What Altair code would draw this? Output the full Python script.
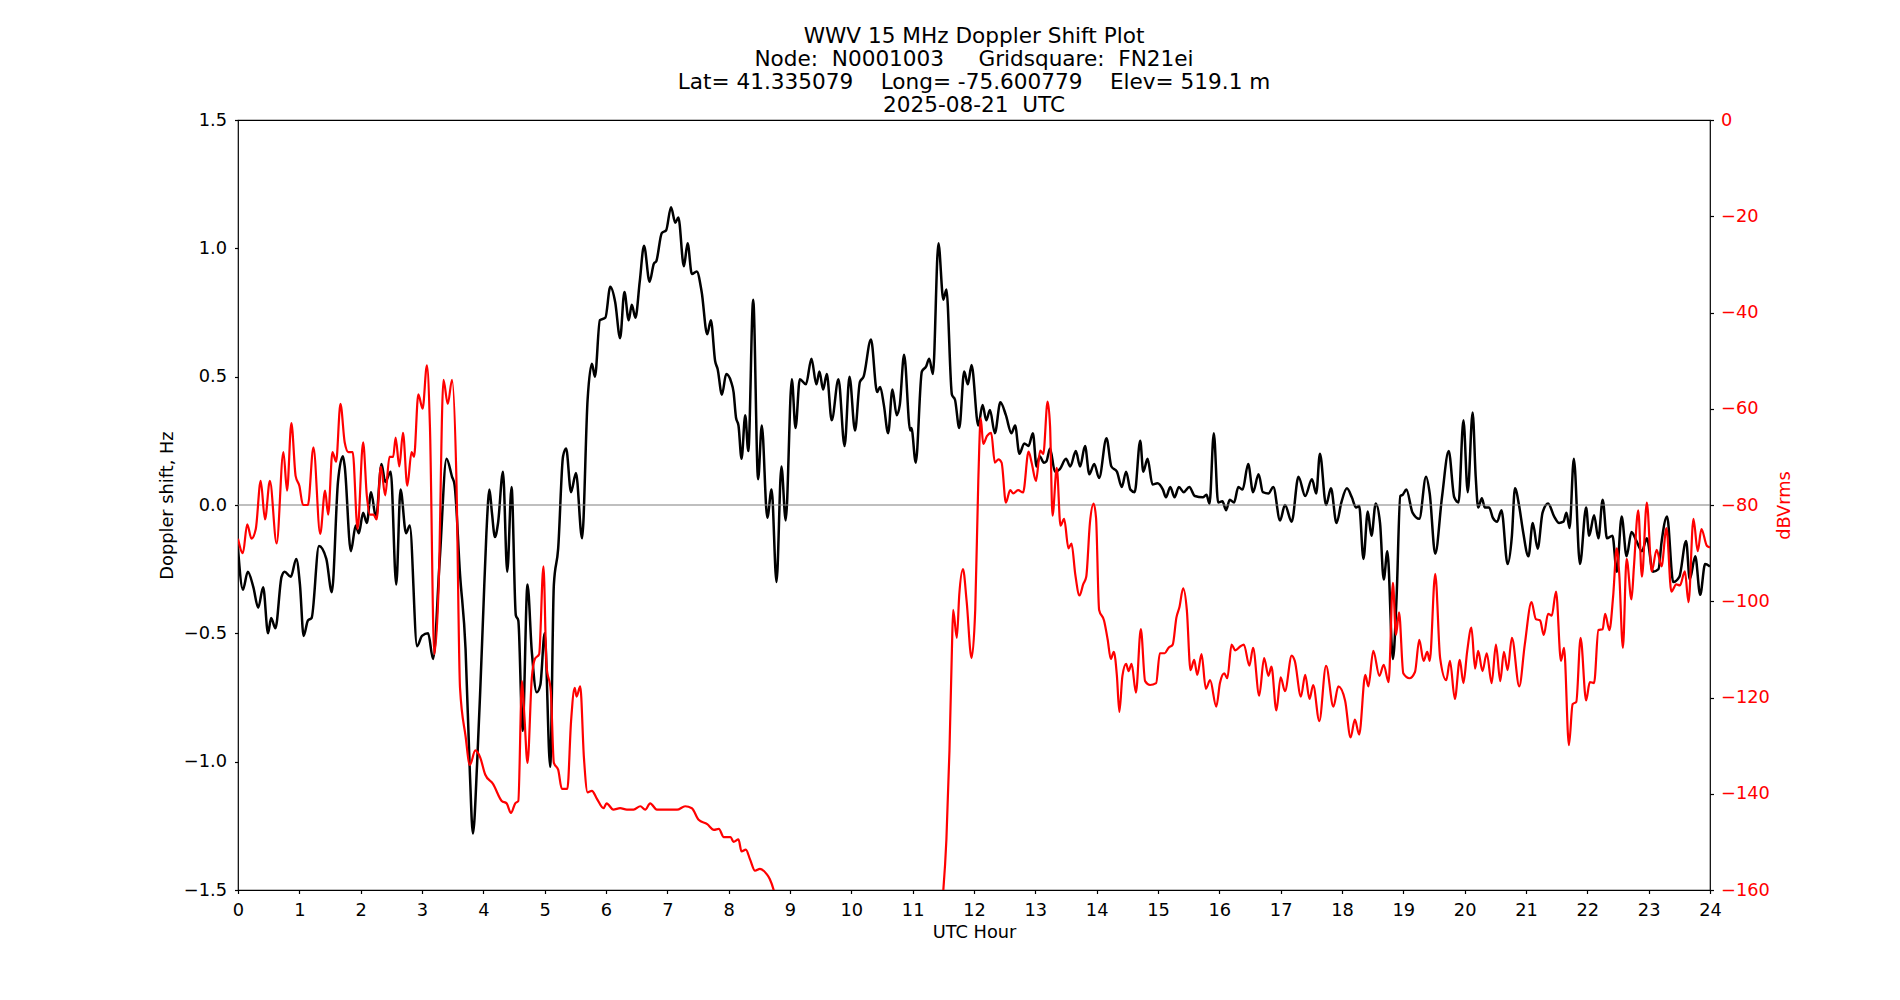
import altair as alt
import pandas as pd

# ---- data ----
doppler_hours = [0.00,0.08,0.16,0.25,0.33,0.41,0.49,0.54,0.61,0.71,0.76,0.86,0.95,1.01,1.07,1.14,1.20,1.32,1.44,1.53,1.63,1.71,1.74,1.84,1.92,1.97,2.04,2.10,2.17,2.25,2.34,2.40,2.49,2.58,2.65,2.74,2.80,2.92,3.00,3.10,3.18,3.29,3.40,3.49,3.53,3.62,3.71,3.78,3.83,3.90,3.95,4.00,4.05,4.10,4.14,4.19,4.24,4.32,4.39,4.46,4.53,4.57,4.64,4.72,4.79,4.87,4.93,5.00,5.09,5.15,5.22,5.30,5.35,5.43,5.51,5.61,5.70,5.77,5.82,5.90,5.99,6.07,6.15,6.23,6.30,6.37,6.42,6.48,6.55,6.62,6.71,6.78,6.82,6.91,6.98,7.06,7.13,7.18,7.27,7.33,7.40,7.48,7.56,7.65,7.71,7.78,7.82,7.89,7.96,8.04,8.08,8.12,8.16,8.21,8.27,8.32,8.40,8.48,8.54,8.63,8.70,8.78,8.86,8.93,9.03,9.09,9.16,9.26,9.35,9.43,9.48,9.54,9.60,9.68,9.79,9.89,9.97,10.06,10.14,10.20,10.32,10.42,10.47,10.53,10.60,10.67,10.74,10.79,10.86,10.96,10.98,11.05,11.15,11.22,11.27,11.33,11.42,11.50,11.55,11.64,11.69,11.76,11.84,11.90,11.96,12.07,12.14,12.20,12.26,12.34,12.43,12.52,12.61,12.67,12.74,12.82,12.89,12.96,13.02,13.07,13.14,13.18,13.24,13.32,13.40,13.50,13.57,13.66,13.73,13.81,13.88,13.96,14.04,14.16,14.24,14.33,14.41,14.48,14.55,14.62,14.71,14.76,14.83,14.91,14.99,15.08,15.13,15.20,15.27,15.34,15.42,15.51,15.60,15.73,15.79,15.84,15.91,15.98,16.05,16.11,16.17,16.24,16.31,16.38,16.47,16.55,16.64,16.71,16.80,16.88,16.99,17.07,17.18,17.29,17.40,17.51,17.58,17.64,17.74,17.82,17.91,17.99,18.08,18.16,18.23,18.28,18.35,18.42,18.48,18.55,18.62,18.68,18.74,18.83,18.89,18.95,18.99,19.05,19.15,19.26,19.37,19.43,19.52,19.63,19.74,19.83,19.90,19.98,20.05,20.13,20.18,20.22,20.28,20.33,20.40,20.46,20.53,20.60,20.70,20.77,20.82,20.89,20.95,21.04,21.11,21.19,21.27,21.36,21.46,21.54,21.61,21.66,21.71,21.78,21.88,21.98,22.03,22.11,22.18,22.25,22.32,22.41,22.48,22.56,22.64,22.72,22.80,22.89,22.97,23.07,23.16,23.21,23.30,23.40,23.50,23.61,23.67,23.76,23.84,23.92,24.00]
doppler_hz = [-0.17,-0.33,-0.26,-0.32,-0.40,-0.32,-0.50,-0.44,-0.48,-0.28,-0.26,-0.28,-0.21,-0.31,-0.51,-0.45,-0.44,-0.16,-0.21,-0.34,0.09,0.19,0.15,-0.18,-0.08,-0.11,-0.03,-0.07,0.05,-0.05,0.16,0.09,0.13,-0.31,0.06,-0.11,-0.08,-0.55,-0.51,-0.50,-0.60,-0.21,0.18,0.11,0.08,-0.27,-0.56,-1.04,-1.28,-1.00,-0.72,-0.41,-0.11,0.06,-0.03,-0.125,-0.07,0.13,-0.26,0.07,-0.43,-0.45,-0.88,-0.31,-0.57,-0.73,-0.70,-0.50,-1.02,-0.31,-0.17,0.19,0.22,0.05,0.125,-0.13,0.41,0.55,0.50,0.72,0.73,0.85,0.79,0.65,0.83,0.72,0.78,0.73,0.87,1.01,0.87,0.94,0.95,1.06,1.07,1.16,1.10,1.12,0.93,1.02,0.90,0.91,0.83,0.665,0.72,0.56,0.53,0.43,0.51,0.48,0.44,0.34,0.31,0.18,0.35,0.21,0.80,0.10,0.31,-0.05,0.06,-0.30,0.15,-0.06,0.49,0.30,0.49,0.47,0.57,0.47,0.52,0.45,0.51,0.33,0.49,0.23,0.50,0.29,0.48,0.50,0.645,0.44,0.46,0.39,0.28,0.45,0.35,0.39,0.585,0.29,0.30,0.165,0.52,0.54,0.57,0.51,1.02,0.80,0.84,0.43,0.41,0.30,0.52,0.47,0.545,0.31,0.39,0.33,0.37,0.28,0.40,0.35,0.28,0.31,0.20,0.24,0.23,0.28,0.15,0.19,0.165,0.17,0.22,0.13,0.14,0.18,0.15,0.21,0.15,0.23,0.12,0.16,0.105,0.26,0.15,0.13,0.07,0.13,0.06,0.05,0.25,0.13,0.18,0.08,0.085,0.06,0.03,0.07,0.03,0.07,0.05,0.07,0.035,0.03,0.04,0.005,0.28,0.01,0.015,-0.02,0.02,0.01,0.07,0.06,0.16,0.05,0.12,0.05,0.045,0.07,-0.06,0.0,-0.065,0.11,0.035,0.10,0.045,0.20,0.0,0.065,-0.07,0.01,0.065,0.03,-0.01,-0.004,-0.21,-0.025,-0.12,0.006,-0.07,-0.29,-0.18,-0.60,-0.36,0.035,0.04,0.06,-0.03,-0.054,0.11,0.045,-0.19,0.03,0.21,0.03,0.01,0.33,0.05,0.36,0.11,-0.01,0.026,-0.01,-0.01,-0.05,-0.065,-0.02,-0.23,-0.12,0.065,-0.006,-0.10,-0.20,-0.07,-0.17,-0.03,0.006,-0.045,-0.07,-0.065,-0.03,-0.09,0.18,-0.23,-0.01,-0.12,-0.04,-0.13,0.02,-0.13,-0.12,-0.26,-0.045,-0.20,-0.105,-0.14,-0.18,-0.13,-0.26,-0.25,-0.145,-0.045,-0.30,-0.28,-0.14,-0.29,-0.20,-0.35,-0.23,-0.24]

level_hours = [0.00,0.08,0.15,0.22,0.29,0.37,0.44,0.52,0.63,0.74,0.80,0.87,0.94,1.00,1.06,1.14,1.23,1.34,1.42,1.47,1.54,1.60,1.67,1.74,1.80,1.87,1.95,2.04,2.10,2.15,2.21,2.26,2.33,2.40,2.47,2.53,2.57,2.63,2.69,2.76,2.83,2.87,2.94,3.01,3.08,3.13,3.20,3.27,3.35,3.42,3.49,3.56,3.62,3.71,3.78,3.87,3.95,4.03,4.16,4.30,4.38,4.45,4.52,4.57,4.63,4.67,4.72,4.79,4.84,4.91,4.98,5.03,5.10,5.15,5.22,5.28,5.37,5.43,5.49,5.52,5.58,5.64,5.70,5.77,5.85,5.96,6.01,6.12,6.23,6.34,6.45,6.56,6.64,6.72,6.83,6.99,7.16,7.29,7.40,7.51,7.65,7.76,7.84,7.92,8.03,8.08,8.16,8.21,8.28,8.35,8.43,8.51,8.62,8.67,8.74,8.85,9.50,10.50,11.30,11.45,11.50,11.55,11.60,11.64,11.66,11.72,11.76,11.82,11.88,11.96,12.02,12.07,12.11,12.15,12.21,12.28,12.34,12.40,12.45,12.52,12.59,12.64,12.72,12.80,12.89,12.94,13.01,13.08,13.13,13.20,13.24,13.28,13.35,13.41,13.47,13.54,13.59,13.65,13.72,13.78,13.83,13.89,13.95,13.99,14.04,14.12,14.18,14.23,14.28,14.33,14.37,14.42,14.48,14.52,14.57,14.64,14.72,14.79,14.87,14.97,15.03,15.11,15.17,15.24,15.30,15.35,15.41,15.47,15.53,15.59,15.64,15.71,15.78,15.85,15.95,16.01,16.08,16.13,16.20,16.26,16.34,16.40,16.49,16.55,16.65,16.73,16.80,16.85,16.93,17.00,17.07,17.18,17.23,17.33,17.40,17.47,17.53,17.63,17.74,17.86,17.94,18.05,18.14,18.21,18.28,18.38,18.43,18.51,18.61,18.68,18.76,18.83,18.88,18.93,19.00,19.10,19.19,19.26,19.33,19.39,19.43,19.52,19.60,19.70,19.76,19.84,19.92,19.98,20.04,20.11,20.17,20.22,20.29,20.36,20.44,20.51,20.58,20.64,20.70,20.77,20.89,20.98,21.09,21.16,21.23,21.29,21.36,21.42,21.49,21.57,21.62,21.70,21.76,21.82,21.89,21.98,22.04,22.11,22.18,22.25,22.29,22.36,22.42,22.48,22.52,22.58,22.64,22.72,22.76,22.83,22.89,22.97,23.05,23.13,23.21,23.29,23.37,23.45,23.51,23.59,23.65,23.73,23.80,23.86,23.95,24.00]
level_dbv = [-87,-90,-84,-87,-85,-75,-83,-75,-88,-69,-77,-63,-74,-76,-80,-80,-68,-86,-77,-82,-69,-71,-59,-67,-69,-69,-85,-67,-78,-82,-82,-83,-72,-78,-70,-70,-66,-72,-65,-76,-69,-70,-57,-60,-51,-64,-111,-97.5,-54,-59,-54,-74,-118,-128,-134,-131,-132.5,-136,-138,-141.5,-142,-144,-142,-141.5,-116.6,-124,-133.6,-116,-112,-111,-92.75,-113.4,-118.7,-133.6,-135,-139,-139,-125,-118,-119.8,-117.7,-132.5,-139.7,-139.4,-141,-143,-142,-143.3,-143,-143.3,-143.3,-142.6,-143.3,-142,-143.3,-143.3,-143.3,-142.6,-143,-145.4,-146.3,-147.5,-147.3,-149,-149,-150,-149.5,-152,-151.6,-153.7,-156,-155.6,-156.7,-157.7,-160.3,-168,-180,-182,-175,-166,-160,-149.5,-131,-110,-101.8,-107.6,-98.6,-93.3,-100,-111.8,-101.8,-75,-62,-67.3,-65.7,-65,-71.2,-70.5,-71.2,-79.5,-76.9,-77.6,-76.9,-77.4,-68.9,-71.2,-75,-68.7,-69.4,-58.5,-63.6,-82.2,-72.3,-84.3,-82.9,-89,-88,-94.3,-98.8,-96.5,-94.9,-83.7,-79.7,-82.7,-101.8,-104,-108,-112,-110.5,-115.5,-123,-115.5,-113,-114.5,-113,-119,-105.8,-116.6,-117.4,-117,-110.8,-110.8,-109.7,-109,-103.4,-101.2,-97.3,-101.8,-114.3,-112.2,-115.3,-111,-118.2,-116.4,-121.9,-117,-115,-116,-109,-110.2,-109.4,-109,-113.4,-109.7,-119.6,-111.8,-115.5,-113.6,-122.7,-115.8,-118.7,-111.3,-112.4,-119.8,-115.3,-120.3,-117.4,-124.9,-113.4,-121.9,-117.7,-120.6,-128.3,-124.6,-127.7,-115.3,-117.7,-110.3,-115.5,-113.2,-116.8,-96.2,-107,-102.3,-115,-116,-114.7,-108,-112.4,-110.5,-112.4,-94.3,-111.8,-116.4,-112.4,-120.3,-112.2,-117,-110.5,-105.5,-114,-110.3,-114.5,-110.8,-117,-109,-116.6,-110.5,-114.3,-107.6,-117.7,-109,-100.2,-103.7,-104,-107,-102.6,-103,-98,-112.4,-109.7,-129.9,-121.4,-120.9,-107.6,-120.6,-116.8,-117,-106,-105.8,-102.6,-106,-99.1,-89,-94.3,-109.7,-91.2,-99.6,-92.75,-81.1,-94.9,-79.5,-93.8,-89.3,-92.75,-84.8,-98,-96.5,-96.7,-93.8,-100.2,-82.9,-89.6,-85,-88.5,-88.8]

hour_ticks = list(range(0, 25))
doppler_ticks = [-1.5, -1.0, -0.5, 0.0, 0.5, 1.0, 1.5]
dbv_ticks = [0, -20, -40, -60, -80, -100, -120, -140, -160]

NB = "\u00a0"
title_lines = [
    "WWV 15 MHz Doppler Shift Plot",
    "Node:" + NB * 2 + "N0001003" + NB * 5 + "Gridsquare:" + NB * 2 + "FN21ei",
    "Lat= 41.335079" + NB * 4 + "Long= -75.600779" + NB * 4 + "Elev= 519.1 m",
    "2025-08-21" + NB * 2 + "UTC",
]

# ---- tables ----
dop_df = pd.DataFrame({"hour": doppler_hours, "doppler": doppler_hz})
lev_df = pd.DataFrame({"hour": level_hours, "dbv": level_dbv})
zero_df = pd.DataFrame({"doppler": [0.0]})

FONT = "DejaVu Sans"
FS = 17.8

x_enc = alt.X(
    "hour:Q",
    scale=alt.Scale(domain=[0, 24], nice=False, zero=False),
    axis=alt.Axis(
        values=hour_ticks, format="d", title="UTC Hour", grid=False, domain=False,
        tickSize=3.5, tickColor="black", tickWidth=1.2, labelPadding=7.5,
        labelFont=FONT, labelFontSize=FS, labelColor="black",
        labelFlush=False, labelOverlap=False, labelBound=False,
        titleFont=FONT, titleFontSize=FS, titleFontWeight="normal", titleColor="black",
        titlePadding=5,
    ),
)

dop_axis = alt.Axis(
    values=doppler_ticks, format=".1f", title="Doppler shift, Hz", grid=False, domain=False,
    tickSize=3.5, tickColor="black", tickWidth=1.2, labelPadding=8,
    labelFont=FONT, labelFontSize=FS, labelColor="black",
    labelFlush=False, labelOverlap=False, labelBound=False,
    titleFont=FONT, titleFontSize=FS, titleFontWeight="normal", titleColor="black",
    titlePadding=7,
)
dop_scale = alt.Scale(domain=[-1.5, 1.5], nice=False, zero=False)

black_line = alt.Chart(dop_df).mark_line(
    color="black", strokeWidth=2.5, interpolate="monotone", clip=True
).encode(x=x_enc, y=alt.Y("doppler:Q", scale=dop_scale, axis=dop_axis))

zero_rule = alt.Chart(zero_df).mark_rule(color="#808080", strokeWidth=1.1).encode(
    y=alt.Y("doppler:Q", scale=dop_scale, axis=dop_axis)
)

red_line = alt.Chart(lev_df).mark_line(
    color="red", strokeWidth=2.2, interpolate="monotone", clip=True
).encode(
    x=x_enc,
    y=alt.Y(
        "dbv:Q",
        scale=alt.Scale(domain=[-160, 0], nice=False, zero=False),
        axis=alt.Axis(
            orient="right", values=dbv_ticks, format="d", title="dBVrms", grid=False, domain=False,
            tickSize=3.5, tickColor="black", tickWidth=1.2, labelPadding=7,
            labelFont=FONT, labelFontSize=FS, labelColor="red",
            labelFlush=False, labelOverlap=False, labelBound=False,
            titleFont=FONT, titleFontSize=FS, titleFontWeight="normal", titleColor="red",
            titleAngle=270, titlePadding=24,
        ),
    ),
)

chart = (
    alt.layer(alt.layer(black_line, zero_rule), red_line)
    .resolve_scale(y="independent")
    .properties(
        width=1472,
        height=770,
        title=alt.TitleParams(
            text=title_lines, font=FONT, fontSize=21.6, fontWeight="normal", color="black",
            anchor="middle", frame="group", lineHeight=23.3, offset=-6,
        ),
        autosize=alt.AutoSizeParams(type="none"),
        padding={"left": 238, "top": 120, "right": 190, "bottom": 110},
        background="white",
    )
    .configure_view(stroke="black", strokeWidth=1.2)
)

chart.save("out.html", embed_options={"renderer": "svg", "actions": False})
